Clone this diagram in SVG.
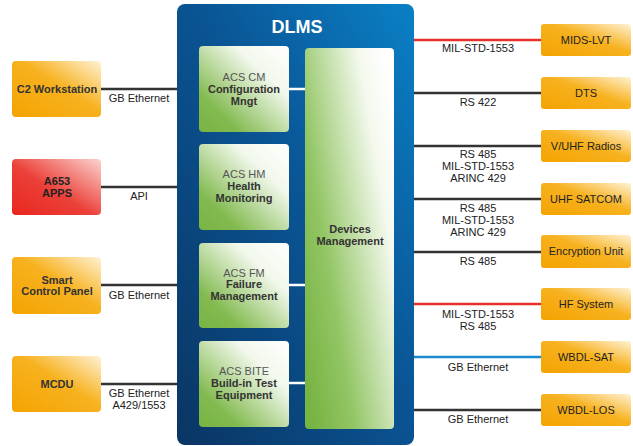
<svg xmlns="http://www.w3.org/2000/svg" width="633" height="446" viewBox="0 0 633 446">
<defs>
<linearGradient id="gBlue" x1="0" y1="1" x2="1" y2="0">
<stop offset="0" stop-color="#0a3563"/>
<stop offset="0.55" stop-color="#0a5595"/>
<stop offset="1" stop-color="#0a80c6"/>
</linearGradient>
<linearGradient id="gGreen" x1="0" y1="1" x2="1" y2="0">
<stop offset="0" stop-color="#78b443"/>
<stop offset="0.22" stop-color="#82ba4f"/>
<stop offset="0.7" stop-color="#f2f8ec"/>
<stop offset="1" stop-color="#ffffff"/>
</linearGradient>
<linearGradient id="gGreenTall" x1="0" y1="0.85" x2="1" y2="0.15">
<stop offset="0" stop-color="#78b443"/>
<stop offset="0.3" stop-color="#92c564"/>
<stop offset="0.8" stop-color="#f4f9ee"/>
<stop offset="1" stop-color="#ffffff"/>
</linearGradient>
<linearGradient id="gOrange" x1="0" y1="1" x2="1" y2="0">
<stop offset="0" stop-color="#f4a300"/>
<stop offset="0.55" stop-color="#f7b220"/>
<stop offset="1" stop-color="#fff2d4"/>
</linearGradient>
<linearGradient id="gRed" x1="0" y1="1" x2="1" y2="0">
<stop offset="0" stop-color="#e8261e"/>
<stop offset="0.45" stop-color="#eb4038"/>
<stop offset="1" stop-color="#fbd3cf"/>
</linearGradient>
</defs>
<style>
text{font-family:"Liberation Sans",Arial,sans-serif;font-size:11px;fill:#222;text-anchor:middle}
.b{font-weight:bold;fill:#333}
.g{fill:#555}
.or{fill:url(#gOrange)}
.gr{fill:url(#gGreen)}
.ln{stroke:#333;stroke-width:2.5;fill:none}
.red{stroke:#e8302a}
.blue{stroke:#1a8ad0}
.wl{stroke:#ffffff;stroke-width:2.5;fill:none}
.title{font-size:18px;font-weight:bold;fill:#fff}
</style>

<g id="connectors">
<line class="ln" x1="101" y1="89" x2="178" y2="89"/>
<line class="ln" x1="101" y1="187" x2="178" y2="187"/>
<line class="ln" x1="101" y1="285" x2="178" y2="285"/>
<line class="ln" x1="101" y1="384" x2="178" y2="384"/>
<line class="ln red" x1="413" y1="40" x2="541" y2="40"/>
<line class="ln" x1="413" y1="93" x2="541" y2="93"/>
<line class="ln" x1="413" y1="146" x2="541" y2="146"/>
<line class="ln" x1="413" y1="199" x2="541" y2="199"/>
<line class="ln" x1="413" y1="252" x2="541" y2="252"/>
<line class="ln red" x1="413" y1="304" x2="541" y2="304"/>
<line class="ln blue" x1="413" y1="357" x2="541" y2="357"/>
<line class="ln" x1="413" y1="410" x2="541" y2="410"/>
<text x="139" y="102">GB Ethernet</text>
<text x="139" y="200">API</text>
<text x="139" y="299">GB Ethernet</text>
<text x="139" y="397">GB Ethernet</text>
<text x="139" y="409">A429/1553</text>
<text x="478" y="52">MIL-STD-1553</text>
<text x="478" y="106">RS 422</text>
<text x="478" y="158">RS 485</text>
<text x="478" y="170">MIL-STD-1553</text>
<text x="478" y="182">ARINC 429</text>
<text x="478" y="212">RS 485</text>
<text x="478" y="224">MIL-STD-1553</text>
<text x="478" y="236">ARINC 429</text>
<text x="478" y="265">RS 485</text>
<text x="478" y="318">MIL-STD-1553</text>
<text x="478" y="330">RS  485</text>
<text x="478" y="371">GB Ethernet</text>
<text x="478" y="423">GB Ethernet</text>
</g>

<g id="dlms">
<rect x="177" y="4" width="237" height="441" rx="8" fill="url(#gBlue)"/>
<text class="title" x="297" y="33">DLMS</text>
</g>

<g id="internal-links">
<line class="wl" x1="289" y1="89" x2="305" y2="89"/>
<line class="wl" x1="289" y1="285" x2="305" y2="285"/>
<line class="wl" x1="289" y1="383" x2="305" y2="383"/>
</g>

<g id="acs-cm">
<rect class="gr" x="199" y="46" width="90" height="86" rx="4"/>
<text class="g" x="244" y="81">ACS CM</text>
<text class="b" x="244" y="93">Configuration</text>
<text class="b" x="244" y="105">Mngt</text>
</g>
<g id="acs-hm">
<rect class="gr" x="199" y="144" width="90" height="86" rx="4"/>
<text class="g" x="244" y="178">ACS HM</text>
<text class="b" x="244" y="190">Health</text>
<text class="b" x="244" y="202">Monitoring</text>
</g>
<g id="acs-fm">
<rect class="gr" x="199" y="243" width="90" height="85" rx="4"/>
<text class="g" x="244" y="277">ACS FM</text>
<text class="b" x="244" y="288">Failure</text>
<text class="b" x="244" y="300">Management</text>
</g>
<g id="acs-bite">
<rect class="gr" x="199" y="341" width="90" height="86" rx="4"/>
<text class="g" x="244" y="375">ACS BITE</text>
<text class="b" x="244" y="387">Build-in Test</text>
<text class="b" x="244" y="399">Equipment</text>
</g>
<g id="devices">
<rect x="305" y="48" width="89" height="381" rx="4" fill="url(#gGreenTall)"/>
<text class="b" x="350" y="233">Devices</text>
<text class="b" x="350" y="245">Management</text>
</g>

<g id="c2">
<rect class="or" x="12" y="61" width="89" height="56" rx="4"/>
<text class="b" x="57" y="93">C2 Workstation</text>
</g>
<g id="a653">
<rect x="12" y="159" width="89" height="56" rx="4" fill="url(#gRed)"/>
<text class="b" x="57" y="185" style="fill:#222">A653</text>
<text class="b" x="57" y="197" style="fill:#222">APPS</text>
</g>
<g id="scp">
<rect class="or" x="12" y="257" width="89" height="57" rx="4"/>
<text class="b" x="57" y="284">Smart</text>
<text class="b" x="57" y="295">Control Panel</text>
</g>
<g id="mcdu">
<rect class="or" x="12" y="356" width="89" height="56" rx="4"/>
<text class="b" x="57" y="388">MCDU</text>
</g>

<g id="mids"><rect class="or" x="541" y="24" width="90" height="32" rx="3"/><text x="586" y="44">MIDS-LVT</text></g>
<g id="dts"><rect class="or" x="541" y="77" width="90" height="32" rx="3"/><text x="586" y="97">DTS</text></g>
<g id="vuhf"><rect class="or" x="541" y="130" width="90" height="32" rx="3"/><text x="586" y="150">V/UHF Radios</text></g>
<g id="satcom"><rect class="or" x="541" y="183" width="90" height="32" rx="3"/><text x="586" y="203">UHF SATCOM</text></g>
<g id="enc"><rect class="or" x="541" y="235" width="90" height="33" rx="3"/><text x="586" y="255">Encryption Unit</text></g>
<g id="hf"><rect class="or" x="541" y="288" width="90" height="32" rx="3"/><text x="586" y="308">HF System</text></g>
<g id="wsat"><rect class="or" x="541" y="341" width="90" height="32" rx="3"/><text x="586" y="361">WBDL-SAT</text></g>
<g id="wlos"><rect class="or" x="541" y="394" width="90" height="32" rx="3"/><text x="586" y="414">WBDL-LOS</text></g>
</svg>
